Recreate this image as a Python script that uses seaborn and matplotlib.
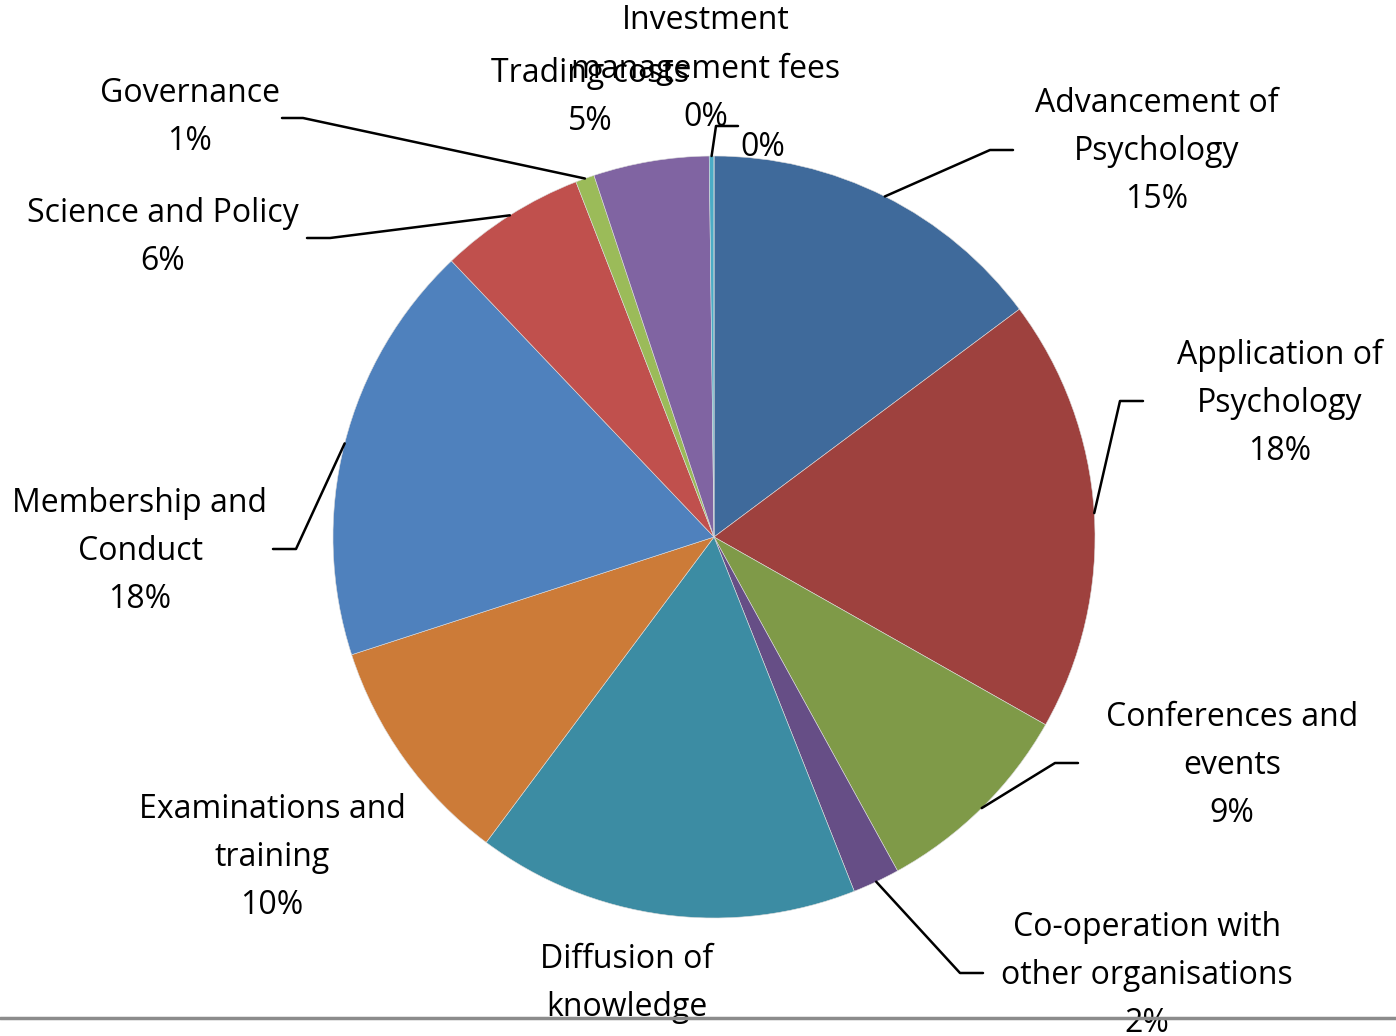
import numpy as np
import matplotlib.pyplot as plt
import seaborn as sns

# slice names and shares (percent), clockwise from 12 o'clock
categories = ['Advancement of\nPsychology', 'Application of\nPsychology', 'Conferences and\nevents',
              'Co-operation with\nother organisations', 'Diffusion of\nknowledge',
              'Examinations and\ntraining', 'Membership and\nConduct', 'Science and Policy',
              'Governance', 'Trading costs', 'Investment\nmanagement fees', '']
shares = [14.8, 18.4, 8.8, 2.0, 16.2, 9.8, 17.9, 6.2, 0.8, 4.9, 0.2, 0.0]
pct_labels = ['15%', '18%', '9%', '2%', '16%', '10%', '18%', '6%', '1%', '5%', '0%', '0%']
colors = ['#3F6A9B', '#9E413E', '#7F9A48', '#664E86', '#3C8CA3', '#CC7B38',
          '#4F81BD', '#C0504D', '#9BBB59', '#8064A2', '#4BACC6', '#F79646']

sns.set_theme(style='white')
plt.rcParams['font.family'] = ['Open Sans', 'DejaVu Sans']

W, H = 1396, 1036
fig = plt.figure(figsize=(W / 100, H / 100), dpi=100, facecolor='white')
ax = fig.add_axes([0, 0, 1, 1])

cx, cy, R = 714, H - 537, 381
wedges, _ = ax.pie(shares, colors=colors, startangle=90, counterclock=False,
                   center=(cx, cy), radius=R,
                   wedgeprops=dict(linewidth=0.4, edgecolor='#DDDDDD'))
ax.set_xlim(0, W)
ax.set_ylim(0, H)
ax.set_aspect('equal')
ax.axis('off')

# label centres (pixel coords from top-left) and leader elbows
label_pos = [(1157, 152), (1280, 403), (1232, 766), (1147, 975), (627, 1007), (272, 857),
             (140, 551), (163, 238), (190, 117), (590, 98), (706, 69), (763, 148)]
elbows = [((990, 150), (1013, 150)), ((1120, 401), (1143, 401)), ((1055, 763), (1078, 763)),
          ((960, 973), (983, 973)), None, None,
          ((296, 549), (273, 549)), ((330, 238), (307, 238)), ((303, 118), (282, 118)),
          None, ((716, 126), (738, 126)), None]

for i, w in enumerate(wedges):
    name = categories[i]
    txt = f'{name}\n{pct_labels[i]}' if name else pct_labels[i]
    lx, ly = label_pos[i]
    ax.text(lx, H - ly, txt, ha='center', va='center', fontsize=23,
            linespacing=1.6, color='black', zorder=5)
    if elbows[i] is not None:
        ang = np.deg2rad((w.theta1 + w.theta2) / 2)
        sx, sy = cx + R * np.cos(ang), cy + R * np.sin(ang)
        (ex, ey), (tx, ty) = elbows[i]
        ax.plot([sx, ex, tx], [sy, H - ey, H - ty], color='black', lw=1.8, zorder=4)

# grey frame edge near the bottom
ax.plot([0, W], [H - 1018, H - 1018], color='#8C8C8C', lw=2.5, zorder=6)

fig.savefig('out.png', dpi=100, facecolor='white')
